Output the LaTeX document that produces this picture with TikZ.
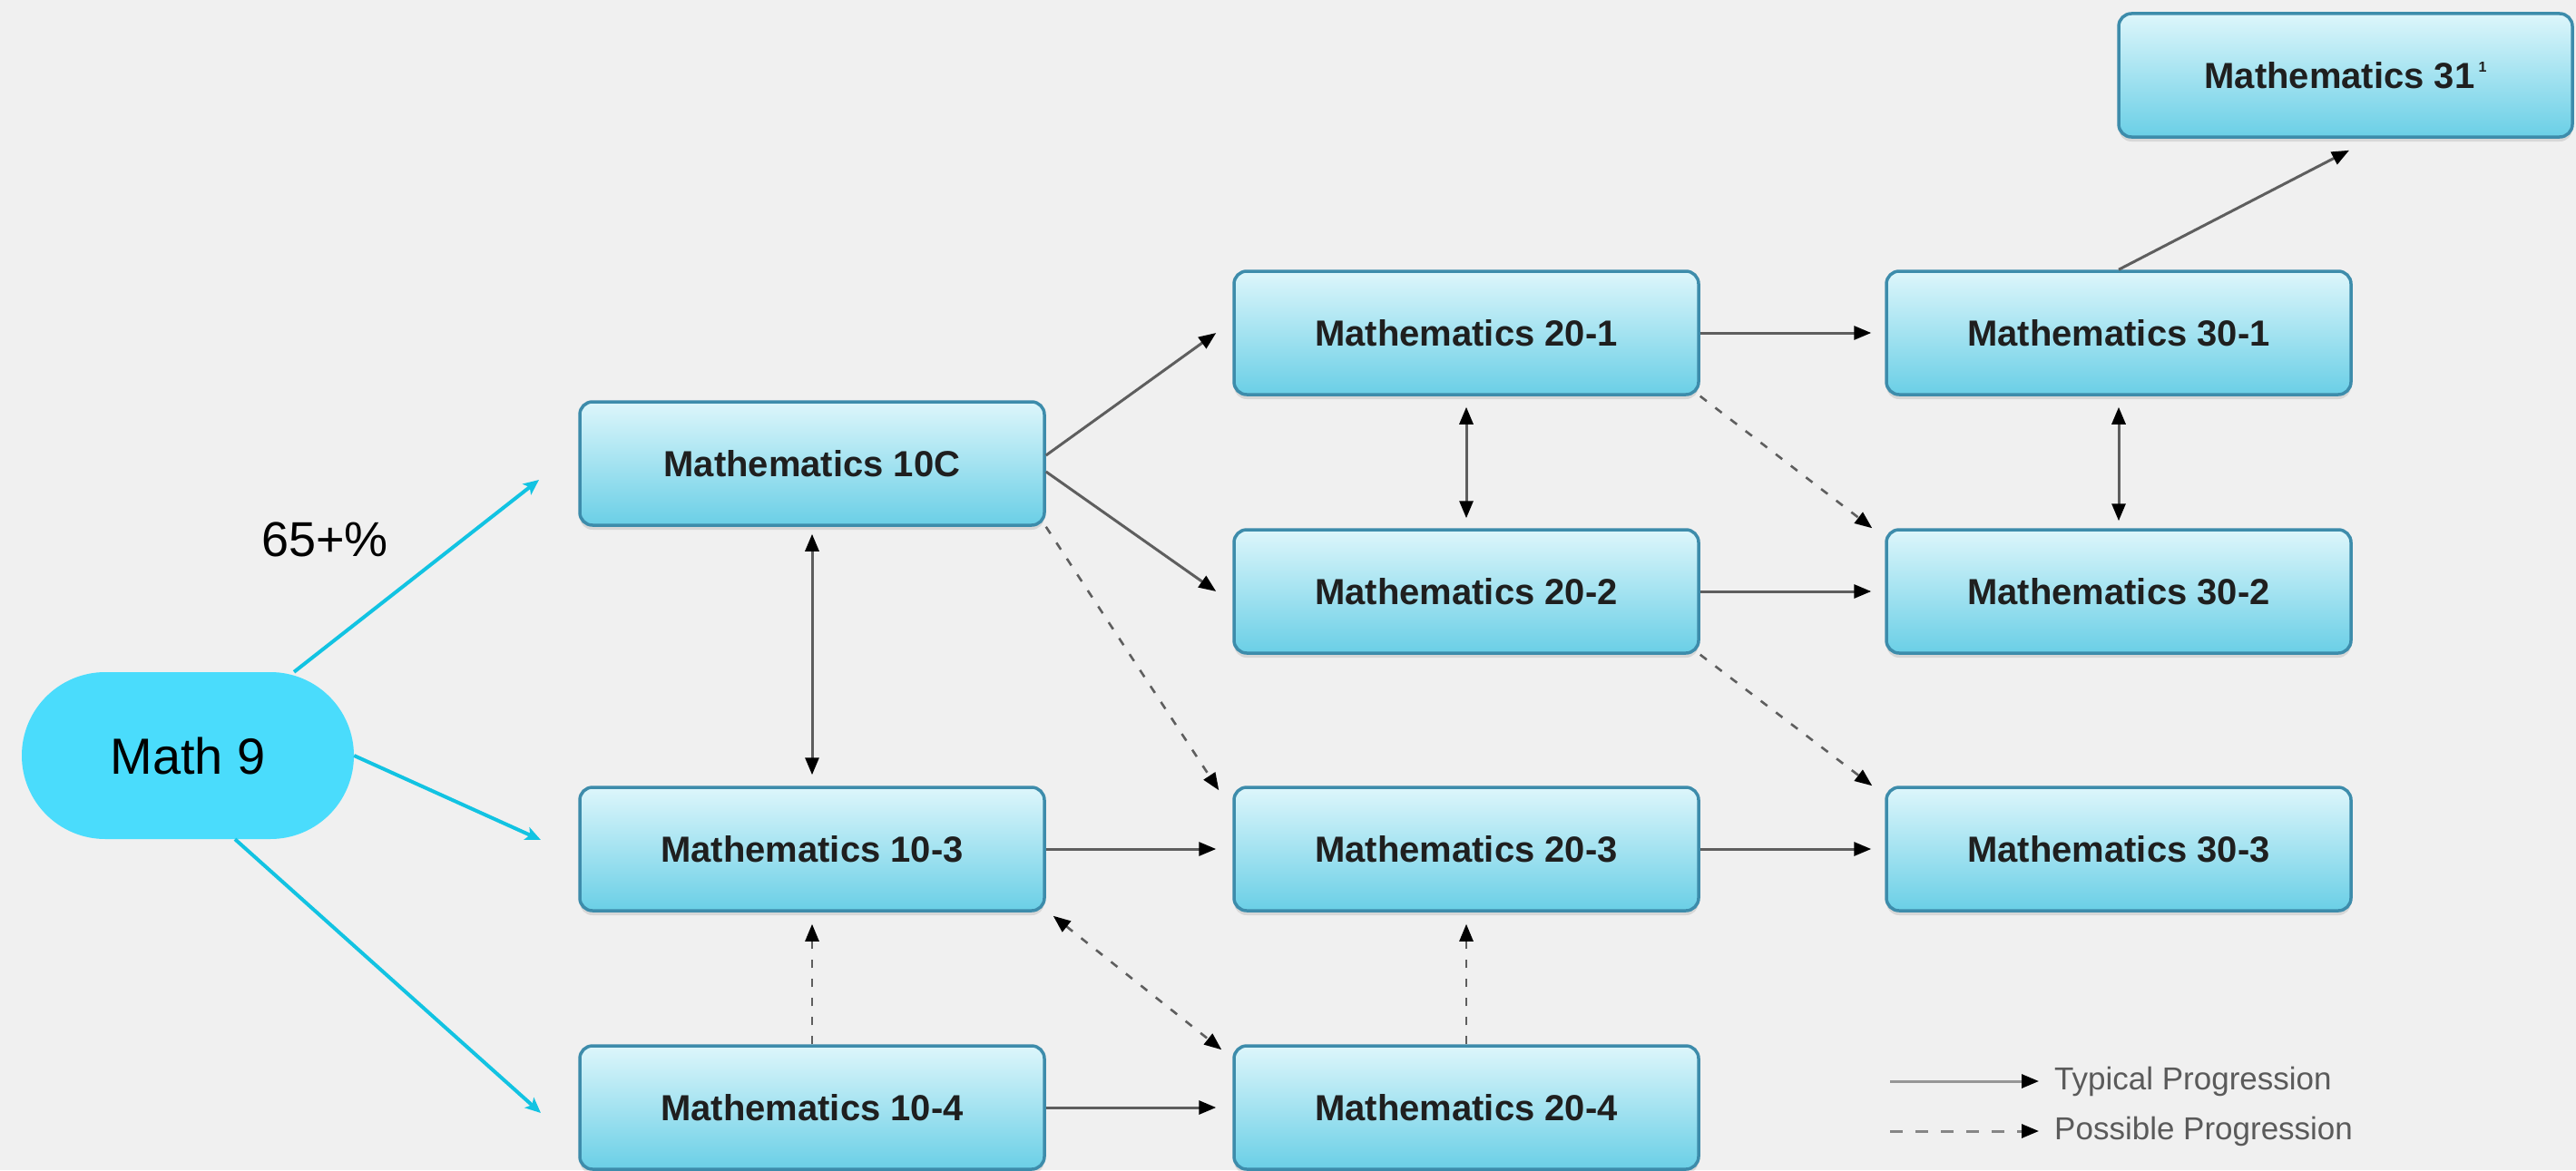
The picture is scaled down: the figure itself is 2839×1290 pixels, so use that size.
\documentclass[tikz,border=0pt]{standalone}
\usepackage{fontspec}
\setmainfont{Liberation Sans}
\usetikzlibrary{arrows.meta,calc,shadows}
\definecolor{bg}{HTML}{F0F0F0}
\definecolor{boxtop}{HTML}{DDF6FB}
\definecolor{boxbot}{HTML}{6ACFE6}
\definecolor{boxedge}{HTML}{3D8CAB}
\definecolor{linegray}{HTML}{5E5E5E}
\definecolor{legendgray}{HTML}{5A5A5A}
\definecolor{cyanline}{HTML}{12C3E2}
\definecolor{mathnine}{HTML}{4ADCFC}
\begin{document}
\begin{tikzpicture}[x=1pt,y=-1pt,
  >={Triangle[length=19pt,width=15pt,color=black]},
  course/.style={draw=boxedge, line width=3.5pt, rounded corners=14pt,
    top color=boxtop, bottom color=boxbot, minimum width=512pt, minimum height=136pt,
    inner sep=0pt, font=\fontsize{40}{48}\selectfont\bfseries, text=black!88,
    drop shadow={shadow xshift=0pt, shadow yshift=-5pt, fill=black, opacity=0.10}},
  typ/.style={draw=linegray, line width=3pt, ->},
  poss/.style={draw=linegray, line width=2.6pt, dash pattern=on 9pt off 12pt, ->},
  cyanarrow/.style={draw=cyanline, line width=4pt, -{Stealth[length=17pt,width=15pt,inset=4pt]}},
  bigtext/.style={font=\fontsize{56}{62}\selectfont, text=black, inner sep=0pt},
  legendtext/.style={font=\fontsize{35}{40}\selectfont, text=legendgray, inner sep=0pt, anchor=west}
]
\useasboundingbox (0,0) rectangle (2839,1290);
\fill[bg] (0,0) rectangle (2839,1290);

% Math 9 and label
\node[fill=mathnine, rounded corners=92pt, minimum width=366pt, minimum height=184pt, bigtext] (m9) at (207,833) {Math 9};
\node[bigtext, font=\fontsize{54}{60}\selectfont] (pct) at (358,595) {65+\%};

% course boxes
\node[course] (c10) at (895,511) {Mathematics 10C};
\node[course] (a103) at (895,936) {Mathematics 10-3};
\node[course] (a104) at (895,1221) {Mathematics 10-4};
\node[course] (a201) at (1616,367) {Mathematics 20-1};
\node[course] (a202) at (1616,652) {Mathematics 20-2};
\node[course] (a203) at (1616,936) {Mathematics 20-3};
\node[course] (a204) at (1616,1221) {Mathematics 20-4};
\node[course] (a301) at (2335,367) {Mathematics 30-1};
\node[course] (a302) at (2335,652) {Mathematics 30-2};
\node[course] (a303) at (2335,936) {Mathematics 30-3};
\node[course, minimum width=500pt] (m31) at (2585,83) {Mathematics 31\kern4pt\raisebox{18pt}{\fontsize{16}{16}\selectfont 1}};

% cyan arrows from Math 9
\coordinate (t1) at (594,529);
\coordinate (t2) at (596,926);
\coordinate (t3) at (596,1227);
\draw[cyanarrow] (m9) -- (t1);
\draw[cyanarrow] (m9.east) -- (t2);
\draw[cyanarrow] ([xshift=52pt]m9.south) -- (t3);

% progression connectors
\draw[typ] ([yshift=9pt]c10.east) -- ([xshift=-18pt]a201.west);
\draw[typ] ([yshift=-9pt]c10.east) -- ([xshift=-18pt]a202.west);
\draw[poss] (c10.south east) -- ([xshift=-15pt,yshift=-5pt]a203.north west);
\draw[typ, <->, shorten <=8pt, shorten >=12pt] (c10) -- (a103);
\draw[typ] (a103.east) -- ([xshift=-18pt]a203.west);
\draw[poss, shorten >=13pt] (a104) -- (a103);
\draw[poss, <->] ([xshift=8pt,yshift=-4pt]a103.south east) -- ([xshift=-12pt,yshift=-6pt]a204.north west);
\draw[typ] (a104.east) -- ([xshift=-18pt]a204.west);
\draw[poss, shorten >=13pt] (a204) -- (a203);
\draw[typ, <->, shorten <=12pt, shorten >=11pt] (a201) -- (a202);
\draw[typ] (a201.east) -- ([xshift=-15pt]a301.west);
\draw[poss] (a201.south east) -- ([xshift=-14pt]a302.north west);
\draw[typ] (a202.east) -- ([xshift=-15pt]a302.west);
\draw[poss] (a202.south east) -- ([xshift=-14pt]a303.north west);
\draw[typ] (a203.east) -- ([xshift=-15pt]a303.west);
\draw[typ, <->, shorten <=12pt, shorten >=8pt] (a301) -- (a302);
\draw[typ] (a301.north) -- ([xshift=4pt,yshift=-13pt]m31.south);

% legend
\node[legendtext] (lt1) at (2264,1192) {Typical Progression};
\node[legendtext] (lt2) at (2264,1247) {Possible Progression};
\coordinate (l1) at (2083,1192);
\coordinate (l2) at (2083,1247);
\draw[typ, draw=linegray!65, shorten >=17pt] (l1) -- (lt1.west);
\draw[poss, draw=linegray!75, line width=3pt, dash pattern=on 14pt off 14pt, shorten >=17pt] (l2) -- (lt2.west);
\end{tikzpicture}
\end{document}
